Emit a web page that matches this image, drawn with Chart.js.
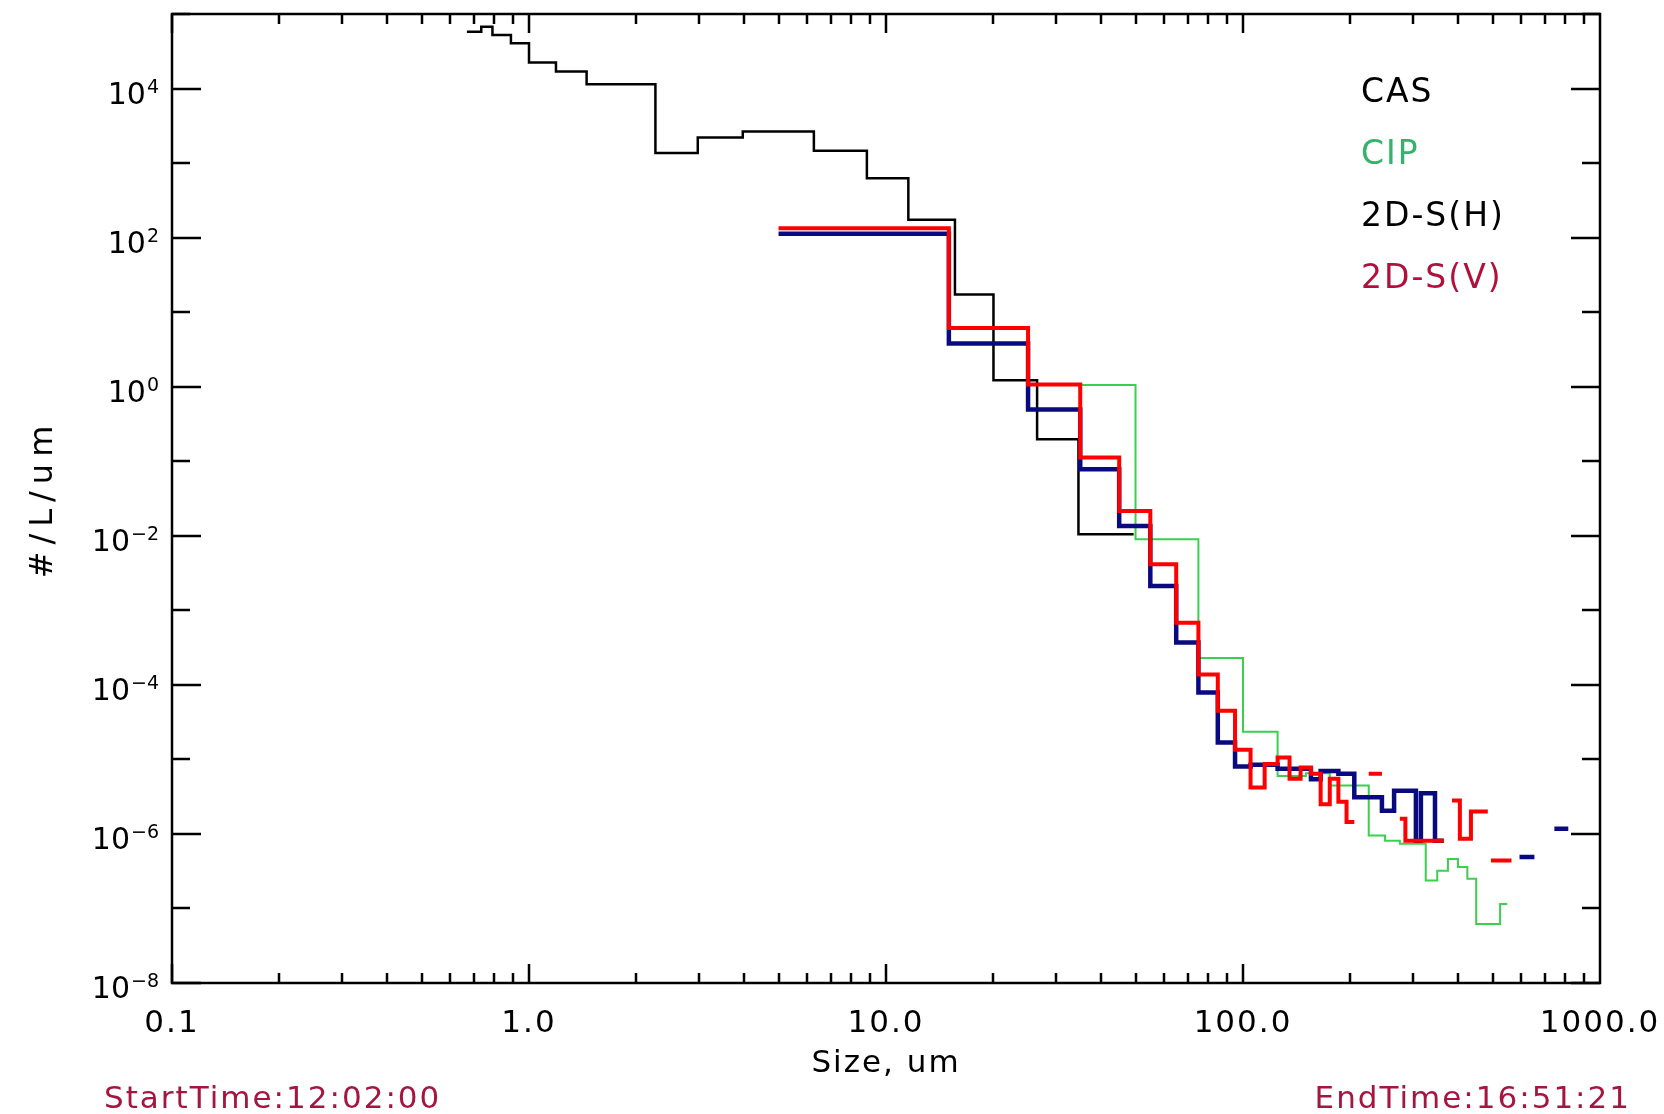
<!DOCTYPE html>
<html>
<head>
  <title>Particle Size Distribution</title>
  <script src="https://cdn.jsdelivr.net/npm/chart.js"></script>
  <style>
    body { margin: 0; background: #fff; }
  </style>
</head>
<body>
  <canvas id="psd-chart" width="1664" height="1114"></canvas>
  <script>
    // bin edges (um) and concentrations (#/L/um) per probe, null = empty bin
    const casEdges = [0.67, 0.735, 0.79, 0.89, 1.0, 1.19, 1.45, 2.26, 2.97, 3.97, 6.28, 8.84, 11.55, 15.6, 20.0, 26.5, 34.6, 49.4];
    const casValues = [58000, 67600, 52400, 40400, 22300, 16900, 11400, 1360, 2200, 2650, 1460, 628, 174, 17.2, 1.22, 0.197, 0.0105];

    const cipEdges = [25, 50, 75, 100, 125, 150, 175, 225, 250, 275, 325, 350, 375, 400, 425, 450, 525, 550];
    const cipValues = [1.05, 0.00897, 2.3e-4, 2.35e-5, 6.0e-6, 6.5e-6, 4.45e-6, 9.5e-7, 8.1e-7, 7.4e-7, 2.37e-7, 3.2e-7, 4.6e-7, 3.6e-7, 2.5e-7, 6.2e-8, 1.15e-7];

    const dshEdges = [5, 15, 25, 35, 45, 55, 65, 75, 85, 95, 105, 125, 155, 165, 185, 205, 245, 265, 305, 315, 345, 365, 595, 655, 745, 815];
    const dshValues = [113, 3.79, 0.495, 0.0778, 0.01355, 2.12e-3, 3.7e-4, 7.9e-5, 1.69e-5, 8.0e-6, 8.5e-6, 7.5e-6, 5.4e-6, 7.0e-6, 6.4e-6, 3.1e-6, 2.05e-6, 3.8e-6, 8.1e-7, 3.5e-6, 8.1e-7, null, 4.9e-7, null, 1.17e-6];

    const dsvEdges = [5, 15, 25, 35, 45, 55, 65, 75, 85, 95, 105, 115, 125, 135, 145, 155, 165, 175, 185, 195, 205, 225, 245, 275, 285, 365, 385, 405, 435, 485, 495, 565];
    const dsvValues = [134, 6.15, 1.07, 0.112, 0.0215, 0.00414, 6.8e-4, 1.38e-4, 4.5e-5, 1.35e-5, 4.2e-6, 8.7e-6, 1.06e-5, 5.5e-6, 7.8e-6, 6.4e-6, 2.5e-6, 5.5e-6, 2.7e-6, 1.44e-6, null, 6.4e-6, null, 1.6e-6, 8.1e-7, null, 2.8e-6, 8.6e-7, 2.0e-6, null, 4.4e-7];

    const xTickValues = [0.1, 1, 10, 100, 1000];
    const xTickLabels = ['0.1', '1.0', '10.0', '100.0', '1000.0'];
    const yTickExponents = [4, 2, 0, -2, -4, -6, -8];

    const probeNames = ['CAS', 'CIP', '2D-S(H)', '2D-S(V)'];
    const probeTextColors = ['#000000', '#34b36a', '#000000', '#b0103c'];
    const startTime = 'StartTime:12:02:00';
    const endTime = 'EndTime:16:51:21';

    // histogram outline: flat top across each bin, breaks where a bin is empty
    function steps(edges, values) {
      const pts = [];
      for (let i = 0; i < values.length; i++) {
        if (values[i] === null) {
          pts.push({ x: edges[i], y: null });
          continue;
        }
        pts.push({ x: edges[i], y: values[i] }, { x: edges[i + 1], y: values[i] });
      }
      return pts;
    }

    const FONT = '"DejaVu Sans", sans-serif';

    function drawText(ctx, str, x, y, size, color, align, spacing) {
      ctx.font = size + 'px ' + FONT;
      ctx.fillStyle = color;
      ctx.textAlign = align;
      ctx.textBaseline = 'alphabetic';
      ctx.letterSpacing = (spacing || 0) + 'px';
      ctx.fillText(str, x, y);
    }

    // box, inward ticks and all labels
    const framePlugin = {
      id: 'frame',
      afterDraw(chart) {
        const ctx = chart.ctx;
        const a = chart.chartArea;
        const xs = chart.scales.x;
        const ys = chart.scales.y;
        ctx.save();
        ctx.strokeStyle = '#000';
        ctx.lineWidth = 2.5;
        ctx.lineCap = 'butt';
        ctx.strokeRect(a.left, a.top, a.right - a.left, a.bottom - a.top);

        ctx.beginPath();
        for (let e = -1; e <= 2; e++) {
          for (let m = 1; m <= 9; m++) {
            const px = Math.round(xs.getPixelForValue(m * Math.pow(10, e)));
            const len = m === 1 ? 19 : 10;
            ctx.moveTo(px, a.bottom);
            ctx.lineTo(px, a.bottom - len);
            ctx.moveTo(px, a.top);
            ctx.lineTo(px, a.top + len);
          }
        }
        for (let e = -8; e <= 5; e++) {
          const py = Math.round(ys.getPixelForValue(Math.pow(10, e)));
          const len = e % 2 === 0 ? 29 : 18;
          ctx.moveTo(a.left, py);
          ctx.lineTo(a.left + len, py);
          ctx.moveTo(a.right, py);
          ctx.lineTo(a.right - len, py);
        }
        ctx.stroke();

        // x tick labels
        xTickValues.forEach((v, i) => {
          drawText(ctx, xTickLabels[i], xs.getPixelForValue(v), 1032, 31, '#000', 'center', 2);
        });

        // y tick labels as 10 with a raised exponent
        yTickExponents.forEach(e => {
          const py = ys.getPixelForValue(Math.pow(10, e));
          const sup = e < 0 ? '\u2212' + (-e) : String(e);
          ctx.font = '19px ' + FONT;
          ctx.letterSpacing = '0px';
          const w = ctx.measureText(sup).width;
          drawText(ctx, sup, 159, py + 4, 19, '#000', 'right', 0);
          drawText(ctx, '10', 158 - w, py + 15, 30, '#000', 'right', 0);
        });

        // axis titles
        drawText(ctx, 'Size, um', (a.left + a.right) / 2, 1072, 31, '#000', 'center', 2);
        ctx.save();
        ctx.translate(52, (a.top + a.bottom) / 2);
        ctx.rotate(-Math.PI / 2);
        drawText(ctx, '#/L/um', 0, 0, 32, '#000', 'center', 7);
        ctx.restore();

        // probe key
        probeNames.forEach((name, i) => {
          drawText(ctx, name, 1361, 102 + i * 62, 33, probeTextColors[i], 'left', 2);
        });

        // flight time window
        drawText(ctx, startTime, 104, 1108, 31, '#a5153f', 'left', 2);
        drawText(ctx, endTime, 1631, 1108, 31, '#a5153f', 'right', 2);
        ctx.restore();
      }
    };

    const lineStyle = {
      pointRadius: 0,
      tension: 0,
      spanGaps: false,
      borderJoinStyle: 'miter',
      borderCapStyle: 'butt'
    };

    const ctx = document.getElementById('psd-chart').getContext('2d');
    const psdChart = new Chart(ctx, {
      type: 'line',
      data: {
        datasets: [
          { ...lineStyle, label: 'CAS', data: steps(casEdges, casValues), borderColor: '#000000', borderWidth: 2.5, order: 3 },
          { ...lineStyle, label: 'CIP', data: steps(cipEdges, cipValues), borderColor: '#3ccf4e', borderWidth: 2, order: 2 },
          { ...lineStyle, label: '2D-S(H)', data: steps(dshEdges, dshValues), borderColor: '#0a0a80', borderWidth: 4.5, order: 1 },
          { ...lineStyle, label: '2D-S(V)', data: steps(dsvEdges, dsvValues), borderColor: '#ff0000', borderWidth: 4, order: 0 }
        ]
      },
      options: {
        responsive: false,
        animation: false,
        devicePixelRatio: 1,
        layout: { padding: { left: 172, top: 14, right: 64, bottom: 131 } },
        plugins: {
          legend: { display: false },
          tooltip: { enabled: false }
        },
        scales: {
          x: { type: 'logarithmic', min: 0.1, max: 1000, display: false },
          y: { type: 'logarithmic', min: 1e-8, max: 1e5, display: false }
        }
      },
      plugins: [framePlugin]
    });
  </script>
</body>
</html>
